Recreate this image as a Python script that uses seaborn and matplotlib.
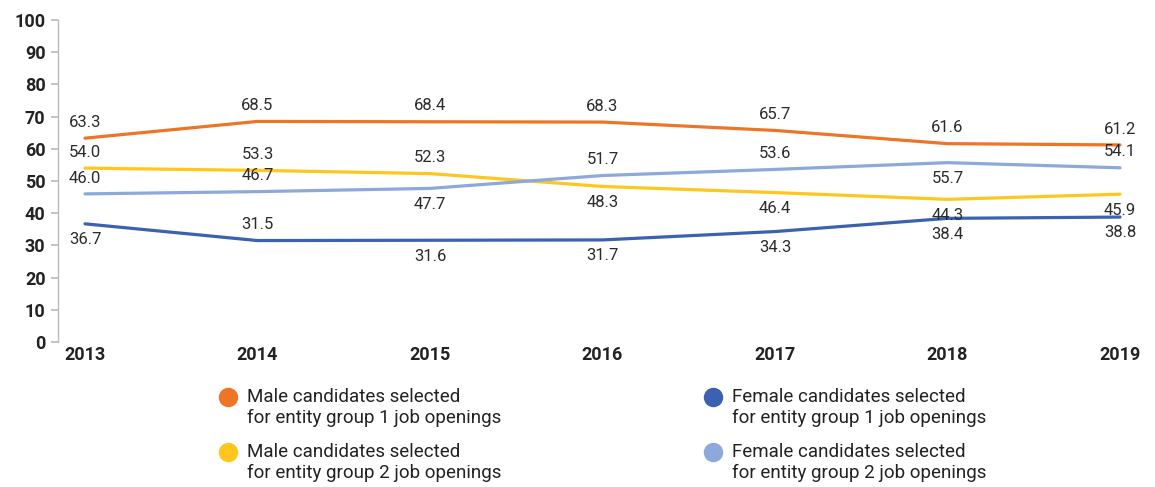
import matplotlib
matplotlib.use("Agg")
import matplotlib.pyplot as plt
import seaborn as sns
import pandas as pd
from matplotlib.lines import Line2D

years = [2013, 2014, 2015, 2016, 2017, 2018, 2019]
male_g1 = [63.3, 68.5, 68.4, 68.3, 65.7, 61.6, 61.2]
male_g2 = [54.0, 53.3, 52.3, 48.3, 46.4, 44.3, 45.9]
female_g1 = [36.7, 31.5, 31.6, 31.7, 34.3, 38.4, 38.8]
female_g2 = [46.0, 46.7, 47.7, 51.7, 53.6, 55.7, 54.1]

series_names = [
    "Male candidates selected\nfor entity group 1 job openings",
    "Male candidates selected\nfor entity group 2 job openings",
    "Female candidates selected\nfor entity group 1 job openings",
    "Female candidates selected\nfor entity group 2 job openings",
]
colors = ["#EE7428", "#FFC61E", "#3A62B0", "#8DA8DB"]
# label placement: +1 above, -1 below
label_pos = [
    [1, 1, 1, 1, 1, 1, 1],
    [1, 1, 1, -1, -1, -1, -1],
    [-1, 1, -1, -1, -1, -1, -1],
    [1, 1, -1, 1, 1, -1, 1],
]

sns.set_theme(style="white")
plt.rcParams["font.family"] = ["Roboto", "DejaVu Sans"]

all_vals = [male_g1, male_g2, female_g1, female_g2]
df = pd.DataFrame({
    "year": years * 4,
    "value": male_g1 + male_g2 + female_g1 + female_g2,
    "series": sum([[n] * len(years) for n in series_names], []),
})

fig = plt.figure(figsize=(11.55, 4.87), dpi=100)
ax = fig.add_axes([58 / 1155, 1 - 342 / 487, (1140 - 58) / 1155, (342 - 20) / 487])

sns.lineplot(data=df, x="year", y="value", hue="series", palette=colors,
             hue_order=series_names, linewidth=2.3, ax=ax, legend=False)

for vals, pos in zip(all_vals, label_pos):
    for x, v, p in zip(years, vals, pos):
        ax.annotate(f"{v:.1f}", (x, v), xytext=(0, 6 if p > 0 else -6),
                    textcoords="offset points", ha="center",
                    va="bottom" if p > 0 else "top",
                    fontsize=12, color="#2b2b2b")

ax.set_xlim(2013 - 27 / 172.5, 2019 + 20 / 172.5)
ax.set_ylim(0, 100)
ax.set_yticks(range(0, 101, 10))
ax.set_xticks(years)
ax.set_xticklabels([str(y) for y in years])
ax.set_xlabel("")
ax.set_ylabel("")
for s in ["top", "right", "bottom"]:
    ax.spines[s].set_visible(False)
ax.spines["left"].set_color("#BBBBBB")
ax.spines["left"].set_linewidth(1)
ax.tick_params(axis="y", left=True, length=5, color="#BBBBBB", labelsize=13,
               labelcolor="#222222", pad=4)
ax.tick_params(axis="x", bottom=False, length=0, labelsize=13,
               labelcolor="#222222", pad=3)
for lab in ax.get_xticklabels() + ax.get_yticklabels():
    lab.set_fontweight("semibold")

# legend, laid out as in the reference (2 columns, marker beside first line)
leg_pos = [(228, 397), (228, 452), (713, 397), (713, 452)]
for (px, py), name, c in zip(leg_pos, series_names, colors):
    fx, fy = px / 1155, 1 - py / 487
    fig.add_artist(Line2D([fx], [fy], marker="o", linestyle="", markersize=13,
                          markerfacecolor=c, markeredgecolor=c,
                          transform=fig.transFigure))
    first, second = name.split("\n")
    fig.text((px + 19) / 1155, fy, first, ha="left", va="center",
             fontsize=13.5, color="#222222")
    fig.text((px + 19) / 1155, 1 - (py + 21) / 487, second, ha="left",
             va="center", fontsize=13.5, color="#222222")

fig.savefig("out.png", dpi=100)
